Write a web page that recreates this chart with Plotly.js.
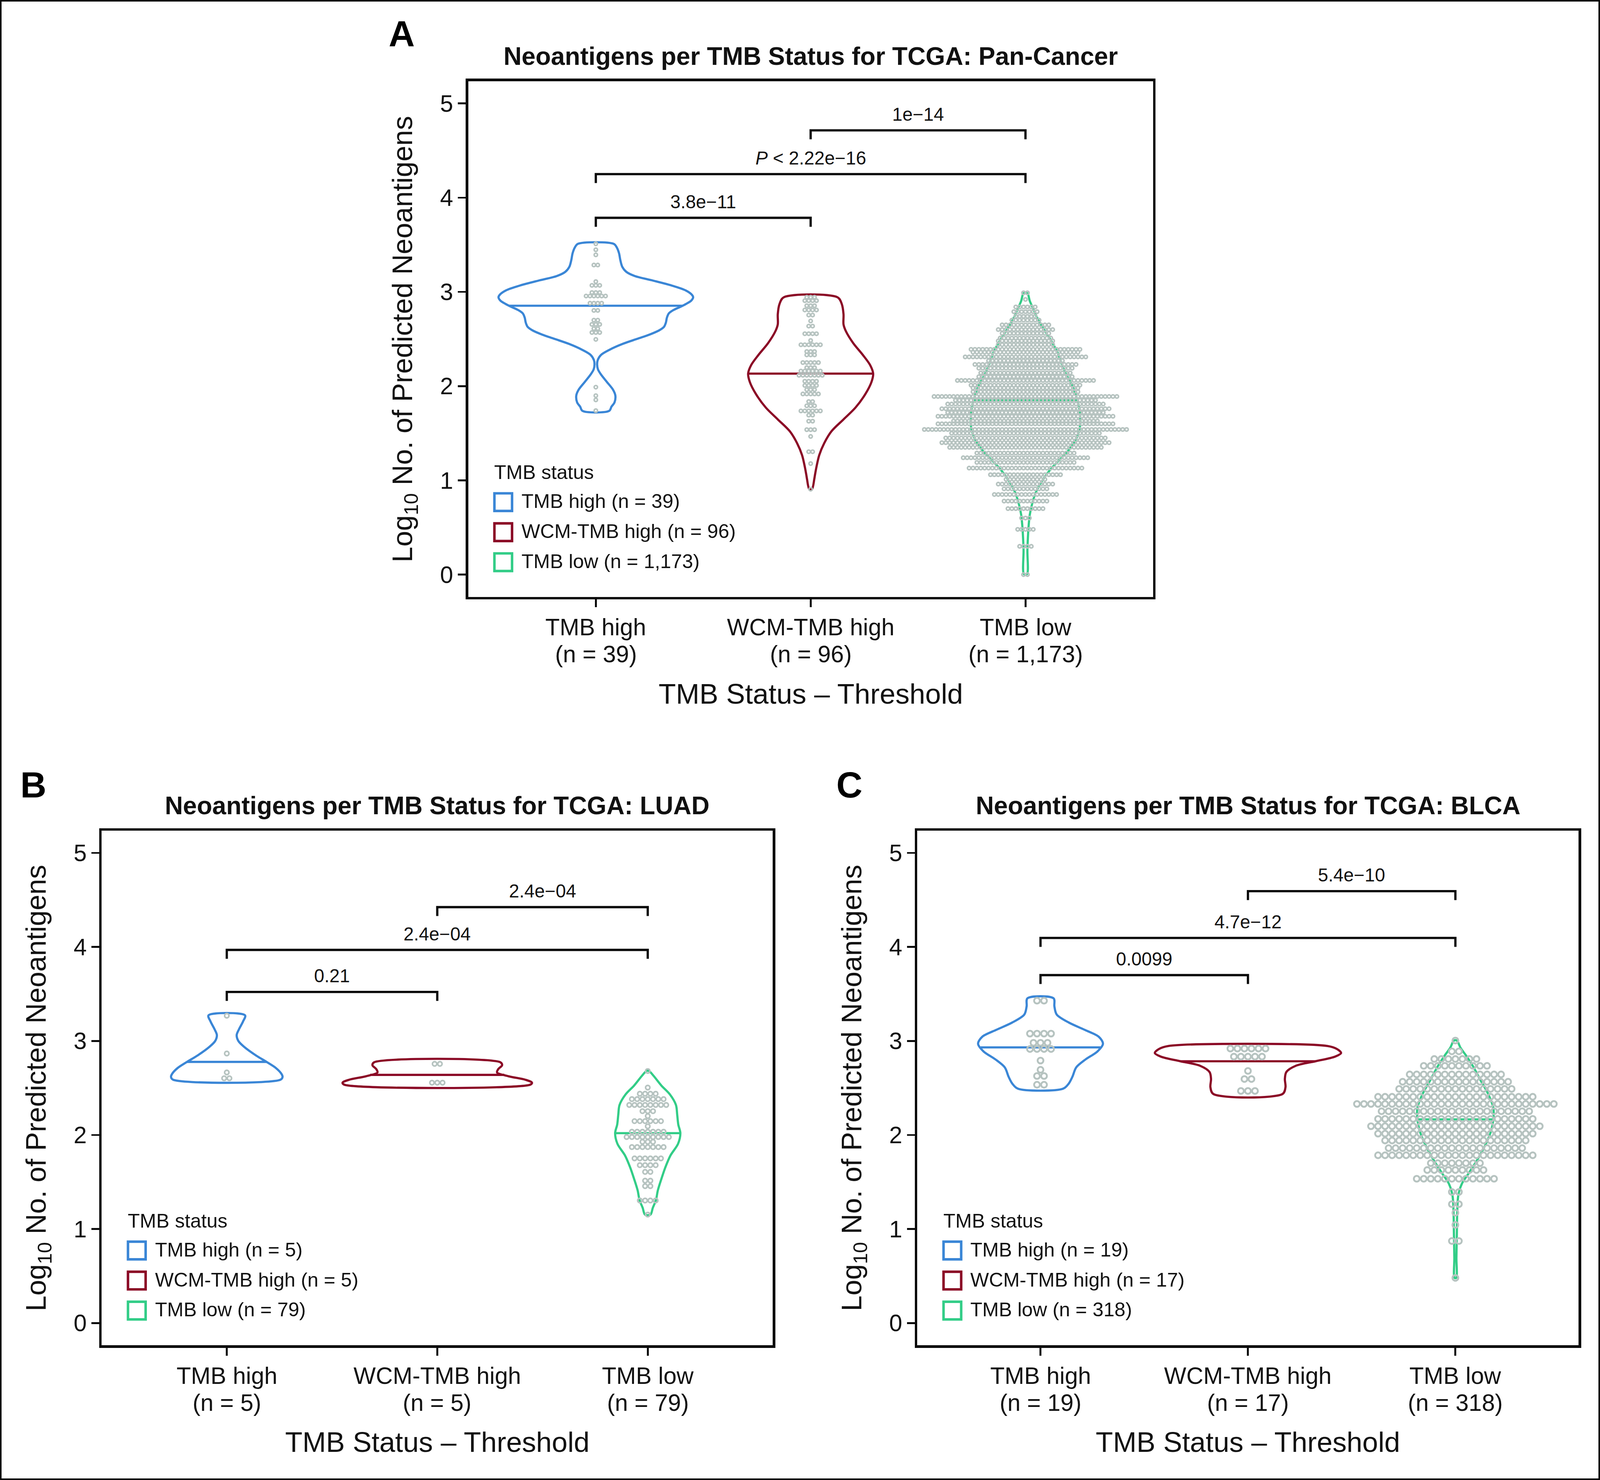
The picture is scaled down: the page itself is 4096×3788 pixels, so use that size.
<!DOCTYPE html>
<html><head><meta charset="utf-8">
<script src="https://cdn.plot.ly/plotly-3.0.1.min.js"></script>
<style>html,body{margin:0;padding:0;background:#fff;}#chart{width:4096px;height:3788px;}</style>
</head><body><div id="chart"></div>
<script>
// ---------------- DATA ----------------
const categories = ['TMB high', 'WCM-TMB high', 'TMB low'];
const panelLetters = ['A', 'B', 'C'];
const panelTitles = [
  'Neoantigens per TMB Status for TCGA: Pan-Cancer',
  'Neoantigens per TMB Status for TCGA: LUAD',
  'Neoantigens per TMB Status for TCGA: BLCA'
];
const groupSizesA = ['39', '96', '1,173'];
const groupSizesB = ['5', '5', '79'];
const groupSizesC = ['19', '17', '318'];
const yTicks = [0, 1, 2, 3, 4, 5];
const xAxisTitle = 'TMB Status \u2013 Threshold';
const yAxisTitle = 'Log<sub>10</sub> No. of Predicted Neoantigens';
const legendTitle = 'TMB status';

// Violin outlines: y levels (top to bottom) and half-widths (category units)
const violinA_high_y = [3.510,3.474,3.411,3.339,3.267,3.213,3.168,3.123,3.069,3.015,2.970,2.943,2.907,2.871,2.844,2.808,2.772,2.727,2.673,2.628,2.592,2.547,2.502,2.448,2.385,2.331,2.277,2.232,2.178,2.124,2.043,1.962,1.899,1.827,1.782,1.737];
const violinA_high_w = [0.083,0.097,0.108,0.114,0.123,0.142,0.182,0.261,0.351,0.419,0.447,0.453,0.444,0.419,0.396,0.362,0.340,0.331,0.326,0.317,0.295,0.250,0.193,0.125,0.063,0.024,0.009,0.006,0.010,0.024,0.052,0.080,0.091,0.087,0.073,0.062];
const violinA_wcm_y = [2.943,2.871,2.763,2.655,2.583,2.457,2.331,2.223,2.133,2.043,1.917,1.773,1.647,1.521,1.394,1.268,1.142,1.056,1.015,0.906];
const violinA_wcm_w = [0.125,0.145,0.153,0.153,0.164,0.198,0.243,0.277,0.291,0.283,0.255,0.209,0.153,0.097,0.063,0.040,0.027,0.020,0.017,0.006];
const violinA_low_y = [2.985,2.904,2.811,2.695,2.580,2.464,2.348,2.232,2.117,2.001,1.885,1.769,1.654,1.561,1.468,1.376,1.283,1.190,1.098,0.982,0.866,0.751,0.635,0.496,0.264,0.005];
const violinA_low_w = [0.009,0.020,0.038,0.061,0.092,0.124,0.151,0.169,0.191,0.219,0.237,0.250,0.255,0.253,0.241,0.219,0.187,0.146,0.110,0.074,0.047,0.031,0.020,0.014,0.009,0.007];

const violinB_high_y = [3.272,3.206,3.124,3.062,3.000,2.938,2.845,2.777,2.711,2.649,2.618,2.587];
const violinB_high_w = [0.087,0.077,0.058,0.047,0.055,0.082,0.139,0.189,0.234,0.260,0.265,0.255];
const violinB_wcm_y = [2.773,2.742,2.701,2.665,2.624,2.587,2.556,2.535];
const violinB_wcm_w = [0.300,0.308,0.290,0.284,0.339,0.419,0.450,0.442];
const violinB_low_y = [2.680,2.628,2.525,2.432,2.319,2.215,2.112,2.019,1.906,1.782,1.658,1.534,1.411,1.307,1.225,1.153];
const violinB_low_w = [0.006,0.028,0.065,0.105,0.134,0.140,0.145,0.155,0.144,0.108,0.084,0.065,0.048,0.039,0.024,0.013];

const violinC_high_y = [3.453,3.367,3.281,3.196,3.117,3.044,2.970,2.889,2.803,2.718,2.620,2.546,2.492];
const violinC_high_w = [0.063,0.067,0.078,0.136,0.214,0.281,0.301,0.275,0.217,0.172,0.154,0.136,0.109];
const violinC_wcm_y = [2.946,2.914,2.872,2.833,2.784,2.735,2.669,2.595,2.509,2.436];
const violinC_wcm_w = [0.384,0.429,0.449,0.420,0.326,0.230,0.185,0.178,0.181,0.167];
const violinC_low_y = [3.004,2.926,2.840,2.730,2.583,2.436,2.289,2.166,2.043,1.896,1.749,1.602,1.480,1.357,1.186,0.940,0.695,0.480];
const violinC_low_w = [0.007,0.025,0.053,0.085,0.121,0.158,0.183,0.183,0.172,0.145,0.109,0.067,0.031,0.014,0.009,0.007,0.005,0.004];

// Medians (TMB high, WCM-TMB high, TMB low)
const mediansA = [2.853, 2.133, 1.85];
const mediansB = [2.777, 2.639, 2.019];
const mediansC = [2.931, 2.784, 2.166];

// Dot-plot rows: binned y value and number of dots in that row
const dotsA_high_y = [3.510,3.447,3.393,3.285,3.109,3.069,2.993,2.956,2.880,2.803,2.700,2.655,2.610,2.569,2.496,1.989,1.899,1.854,1.740];
const dotsA_high_n = [1,1,1,2,1,3,3,6,4,2,2,3,2,3,1,1,1,1,1];
const dotsA_wcm_y = [2.943,2.907,2.853,2.808,2.754,2.691,2.637,2.556,2.484,2.439,2.367,2.331,2.250,2.196,2.160,2.115,2.052,2.007,1.962,1.917,1.836,1.791,1.737,1.692,1.628,1.538,1.466,1.304,1.178,0.906];
const dotsA_wcm_n = [3,4,3,4,2,1,2,4,1,6,3,3,5,3,6,7,4,4,3,5,2,3,6,2,2,3,1,2,1,1];
const dotsA_low_y = [2.99,2.92,2.84,2.79,2.74,2.70,2.65,2.60,2.56,2.51,2.48,2.44,2.39,2.36,2.31,2.27,2.23,2.19,2.14,2.10,2.06,2.01,1.98,1.94,1.89,1.85,1.81,1.76,1.72,1.68,1.63,1.60,1.54,1.50,1.45,1.40,1.35,1.29,1.24,1.19,1.13,1.06,1.01,0.96,0.91,0.85,0.78,0.70,0.60,0.48,0.30,0.00];
const dotsA_low_n = [2,1,6,7,6,8,13,15,13,14,15,15,29,28,32,20,27,25,24,25,36,29,28,28,48,37,41,44,41,46,38,46,53,39,42,44,40,26,33,26,30,19,11,15,12,17,12,10,3,5,4,2];

const dotsB_high_y = [3.268,2.866,2.665,2.603];
const dotsB_high_n = [1,1,1,2];
const dotsB_wcm_y = [2.756,2.556];
const dotsB_wcm_n = [2,3];
const dotsB_low_y = [2.680,2.504,2.438,2.381,2.319,2.253,2.201,2.147,2.092,2.034,1.978,1.927,1.871,1.751,1.679,1.607,1.514,1.456,1.303,1.153];
const dotsB_low_n = [1,1,4,7,8,3,1,6,1,7,9,3,7,6,4,2,2,2,4,1];

const dotsC_high_y = [3.428,3.078,2.980,2.914,2.791,2.693,2.627,2.534];
const dotsC_high_n = [2,4,3,4,1,1,2,2];
const dotsC_wcm_y = [2.919,2.833,2.681,2.595,2.468];
const dotsC_wcm_n = [6,5,1,2,3];
const dotsC_low_y = [3.004,2.889,2.808,2.735,2.644,2.566,2.490,2.406,2.330,2.252,2.171,2.093,2.014,1.941,1.860,1.784,1.700,1.627,1.534,1.394,1.264,1.173,1.044,0.872,0.480];
const dotsC_low_n = [1,2,7,10,14,16,17,23,29,22,23,25,23,21,20,23,8,9,12,2,2,1,1,2,1];

// Significance brackets: compared groups (1-based), bracket height, label
const bracketPairs = [[1, 2], [1, 3], [2, 3]];
const bracketHeightsA = [3.786, 4.25, 4.714];
const bracketLabelsA = ['3.8e\u221211', '<i>P</i> < 2.22e\u221216', '1e\u221214'];
const bracketHeightsB = [3.521, 3.968, 4.423];
const bracketLabelsB = ['0.21', '2.4e\u221204', '2.4e\u221204'];
const bracketHeightsC = [3.70, 4.095, 4.593];
const bracketLabelsC = ['0.0099', '4.7e\u221212', '5.4e\u221210'];

// ---------------- STYLE / LAYOUT ----------------
const REF_W = 4208, REF_H = 3892, K = 4096 / 4208;
const FONT = 'Liberation Sans, Arial, Helvetica, sans-serif';
const TXT = '#111111';
const groupColors = ['#3a86d6', '#8b0a26', '#32cd87'];
const dotColor = '#b6c3c0';
const boxes = [
  {L: 1228, R: 3036, T: 210, B: 1573},
  {L: 264.3, R: 2035.7, T: 2181, B: 3541},
  {L: 2409.2, R: 4155, T: 2181, B: 3541}
];
const dotStyle = [
  {size: 8.6, lw: 3.9, step: 0.0181},
  {size: 11.0, lw: 4.2, step: 0.0251},
  {size: 14.8, lw: 4.8, step: 0.0339}
];
const AXLW = 6.4;
const VLW = 5.6;

const panels = [
  {sizes: groupSizesA,
   violins: [[violinA_high_y, violinA_high_w], [violinA_wcm_y, violinA_wcm_w], [violinA_low_y, violinA_low_w]],
   medians: mediansA,
   dots: [[dotsA_high_y, dotsA_high_n], [dotsA_wcm_y, dotsA_wcm_n], [dotsA_low_y, dotsA_low_n]],
   bh: bracketHeightsA, bl: bracketLabelsA},
  {sizes: groupSizesB,
   violins: [[violinB_high_y, violinB_high_w], [violinB_wcm_y, violinB_wcm_w], [violinB_low_y, violinB_low_w]],
   medians: mediansB,
   dots: [[dotsB_high_y, dotsB_high_n], [dotsB_wcm_y, dotsB_wcm_n], [dotsB_low_y, dotsB_low_n]],
   bh: bracketHeightsB, bl: bracketLabelsB},
  {sizes: groupSizesC,
   violins: [[violinC_high_y, violinC_high_w], [violinC_wcm_y, violinC_wcm_w], [violinC_low_y, violinC_low_w]],
   medians: mediansC,
   dots: [[dotsC_high_y, dotsC_high_n], [dotsC_wcm_y, dotsC_wcm_n], [dotsC_low_y, dotsC_low_n]],
   bh: bracketHeightsC, bl: bracketLabelsC}
];

const px = X => X / REF_W;
const py = Y => 1 - Y / REF_H;

function widthAt(ys, ws, y) {
  for (let i = 0; i < ys.length - 1; i++) {
    if (y <= ys[i] && y >= ys[i + 1]) {
      const t = (ys[i] - y) / (ys[i] - ys[i + 1]);
      return ws[i] + t * (ws[i + 1] - ws[i]);
    }
  }
  return ws[0];
}

const traces = [];
const annotations = [];
const shapes = [];
const layout = {
  width: 4096, height: 3788,
  margin: {l: 0, r: 0, t: 0, b: 0, pad: 0},
  paper_bgcolor: '#ffffff', plot_bgcolor: '#ffffff',
  showlegend: false,
  font: {family: FONT, color: TXT}
};

panels.forEach((p, pi) => {
  const b = boxes[pi];
  const sfx = pi === 0 ? '' : String(pi + 1);
  const xa = 'x' + sfx, ya = 'y' + sfx;
  const h = (AXLW / 2) / K;
  const xr = [0.4 + h * 3.2 / (b.R - b.L), 3.6 - h * 3.2 / (b.R - b.L)];
  const yr = [-0.25 + h * 5.5 / (b.B - b.T), 5.25 - h * 5.5 / (b.B - b.T)];
  layout['xaxis' + sfx] = {
    domain: [px(b.L + h), px(b.R - h)], range: xr, anchor: ya,
    tickmode: 'array', tickvals: [1, 2, 3], showticklabels: false,
    ticks: 'outside', ticklen: 20, tickwidth: 4.7, tickcolor: '#0a0a0a',
    showline: true, linewidth: AXLW, linecolor: '#0a0a0a', mirror: true,
    showgrid: false, zeroline: false, fixedrange: true
  };
  layout['yaxis' + sfx] = {
    domain: [py(b.B - h), py(b.T + h)], range: yr, anchor: xa,
    tickmode: 'array', tickvals: yTicks, ticktext: yTicks.map(String),
    ticks: 'outside', ticklen: 20, tickwidth: 4.7, tickcolor: '#0a0a0a',
    tickfont: {family: FONT, size: 60.3, color: TXT},
    showline: true, linewidth: AXLW, linecolor: '#0a0a0a', mirror: true,
    showgrid: false, zeroline: false, fixedrange: true
  };

  // violins
  p.violins.forEach((v, gi) => {
    const c = gi + 1, ys = v[0], ws = v[1];
    const x = [], y = [];
    for (let i = 0; i < ys.length; i++) { x.push(c + ws[i]); y.push(ys[i]); }
    for (let i = ys.length - 1; i >= 0; i--) { x.push(c - ws[i]); y.push(ys[i]); }
    x.push(c + ws[0]); y.push(ys[0]);
    traces.push({type: 'scatter', mode: 'lines', x, y, xaxis: xa, yaxis: ya,
      line: {color: groupColors[gi], width: VLW, shape: 'spline', smoothing: 0.9},
      hoverinfo: 'skip'});
    const m = p.medians[gi];
    const mw = widthAt(ys, ws, m);
    traces.push({type: 'scatter', mode: 'lines', x: [c - mw, c + mw], y: [m, m], xaxis: xa, yaxis: ya,
      line: {color: groupColors[gi], width: VLW}, hoverinfo: 'skip'});
  });
  // dots
  p.dots.forEach((d, gi) => {
    const c = gi + 1, ds = dotStyle[pi];
    const x = [], y = [];
    d[0].forEach((yy, r) => {
      const n = d[1][r];
      for (let i = 0; i < n; i++) { x.push(c + (i - (n - 1) / 2) * ds.step); y.push(yy); }
    });
    traces.push({type: 'scatter', mode: 'markers', x, y, xaxis: xa, yaxis: ya,
      marker: {symbol: 'circle', size: ds.size, color: 'rgba(0,0,0,0)',
               line: {color: dotColor, width: ds.lw}}, hoverinfo: 'skip'});
  });
  // brackets
  const tip = 0.095;
  bracketPairs.forEach((pr, bi) => {
    const hgt = p.bh[bi];
    traces.push({type: 'scatter', mode: 'lines', x: [pr[0], pr[0], pr[1], pr[1]],
      y: [hgt - tip, hgt, hgt, hgt - tip], xaxis: xa, yaxis: ya,
      line: {color: '#0a0a0a', width: 5.8}, hoverinfo: 'skip'});
    annotations.push({xref: xa, yref: ya, x: (pr[0] + pr[1]) / 2, y: hgt,
      xanchor: 'center', yanchor: 'bottom', yshift: 12.5, showarrow: false,
      text: p.bl[bi], font: {family: FONT, size: 47.2, color: TXT}});
  });
  // x tick labels (two lines)
  categories.forEach((cat, gi) => {
    annotations.push({xref: xa, yref: 'paper', x: gi + 1, y: py(b.B + 76.2),
      xanchor: 'center', yanchor: 'middle', showarrow: false,
      text: cat, font: {family: FONT, size: 60.3, color: TXT}});
    annotations.push({xref: xa, yref: 'paper', x: gi + 1, y: py(b.B + 147.2),
      xanchor: 'center', yanchor: 'middle', showarrow: false,
      text: '(n = ' + p.sizes[gi] + ')', font: {family: FONT, size: 60.3, color: TXT}});
  });
  // axis titles
  annotations.push({xref: 'paper', yref: 'paper', x: px((b.L + b.R) / 2), y: py(b.B + 251),
    xanchor: 'center', yanchor: 'middle', showarrow: false,
    text: xAxisTitle, font: {family: FONT, size: 72.4, color: TXT}});
  annotations.push({xref: 'paper', yref: 'paper', x: px(b.L - 165), y: py((b.T + b.B) / 2),
    xanchor: 'center', yanchor: 'middle', showarrow: false, textangle: -90,
    text: yAxisTitle, font: {family: FONT, size: 72.4, color: TXT}});
  // panel title
  annotations.push({xref: 'paper', yref: 'paper', x: px((b.L + b.R) / 2), y: py(b.T - 62),
    xanchor: 'center', yanchor: 'middle', showarrow: false,
    text: '<b>' + panelTitles[pi] + '</b>', font: {family: FONT, size: 64.2, color: TXT}});
  // legend
  const keyL = b.L + 69;
  annotations.push({xref: 'paper', yref: 'paper', x: px(keyL + 1), y: py(b.B - 331),
    xanchor: 'left', yanchor: 'middle', showarrow: false,
    text: legendTitle, font: {family: FONT, size: 50.5, color: TXT}});
  categories.forEach((cat, gi) => {
    const top = b.B - 68 - 53 - (2 - gi) * 79;
    const hs = 3.3;
    shapes.push({type: 'rect', xref: 'paper', yref: 'paper',
      x0: px(keyL + hs), x1: px(keyL + 53 - hs), y0: py(top + hs), y1: py(top + 53 - hs),
      line: {color: groupColors[gi], width: 6.4}, fillcolor: 'rgba(0,0,0,0)'});
    annotations.push({xref: 'paper', yref: 'paper', x: px(keyL + 72), y: py(top + 26.5 - 2.5),
      xanchor: 'left', yanchor: 'middle', showarrow: false,
      text: cat + ' (n = ' + p.sizes[gi] + ')', font: {family: FONT, size: 50.5, color: TXT}});
  });
});

// panel letters
const letterPos = [[1020, 88], [51, 2064], [2197, 2064]];
panelLetters.forEach((L, i) => {
  annotations.push({xref: 'paper', yref: 'paper', x: px(letterPos[i][0]), y: py(letterPos[i][1]),
    xanchor: 'left', yanchor: 'middle', showarrow: false,
    text: '<b>' + L + '</b>', font: {family: FONT, size: 92.5, color: '#000'}});
});

// outer frame
shapes.push({type: 'rect', xref: 'paper', yref: 'paper', x0: 2 / 4096, x1: 1 - 2 / 4096,
  y0: 2 / 3788, y1: 1 - 2 / 3788, line: {color: '#0a0a0a', width: 4}});

layout.annotations = annotations;
layout.shapes = shapes;

Plotly.newPlot('chart', traces, layout, {staticPlot: true, displayModeBar: false});
</script>
</body></html>
